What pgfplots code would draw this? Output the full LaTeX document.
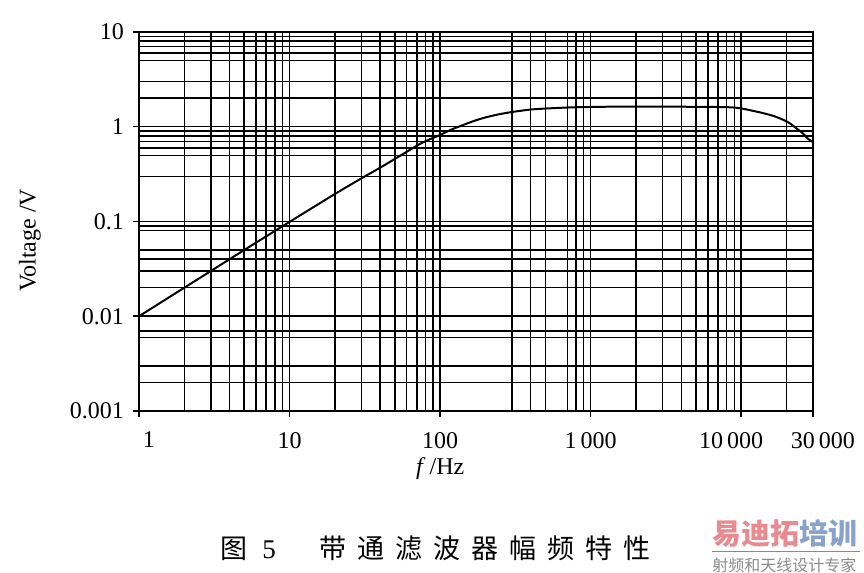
\documentclass[border=0pt]{standalone}
\usepackage{pgfplots}
\pgfplotsset{compat=1.18}
\usepackage{fontspec}
\setmainfont{Liberation Serif}
\newfontfamily\cjk{Noto Sans CJK SC}
\definecolor{wmred}{HTML}{E88A90}
\definecolor{wmblue}{HTML}{87A2CC}
\definecolor{wmgray}{HTML}{8A8A8A}
\begin{document}
\begin{tikzpicture}
\useasboundingbox (0,0) rectangle (432pt,286.5pt);
\begin{axis}[
  at={(69.5pt,81pt)}, anchor=south west,
  scale only axis, width=337pt, height=189.5pt,
  xmode=log, ymode=log,
  xmin=1, xmax=30000, ymin=0.001, ymax=10,
  xtick={1,10,100,1000,10000,30000},
  xticklabels={\hspace*{10pt}1,10,100,1\,000,10\,000\hspace*{10pt},\hspace*{10pt}30\,000},
  minor xtick={2,3,4,5,6,7,8,9,20,30,40,50,60,70,80,90,300,400,500,700,800,900,2000,3000,4000,5000,6000,7000,8000,9000,20000},
  ytick={0.001,0.01,0.1,1,10},
  yticklabels={0.001,0.01,0.1,1,10},
  minor ytick={0.002,0.003,0.006,0.007,0.02,0.03,0.04,0.05,0.08,0.09,0.3,0.5,0.6,0.7,0.8,0.9,2,3,5,6,7,8,9},
  grid=both,
  major grid style={black, line width=0.75pt},
  minor grid style={black, line width=0.75pt},
  axis line style={black, line width=0.75pt},
  tick align=outside, major tick length=3pt, minor tick length=0pt,
  xtick pos=bottom, ytick pos=left,
  tick style={black, line width=0.75pt},
  /pgf/number format/assume math mode=true,
  ticklabel style={font=\fontsize{12}{14}\selectfont},
  xticklabel style={yshift=-4pt},
  yticklabel style={xshift=-1pt},
  xlabel={\textit{f}\,/Hz},
  xlabel style={font=\fontsize{12}{14}\selectfont, at={(rel axis cs:0.447,-0.153)}, anchor=center},
  ylabel={Voltage /V},
  ylabel style={font=\fontsize{12}{14}\selectfont, at={(rel axis cs:-0.162,0.45)}, anchor=center},
]
\addplot[black, line width=1pt, smooth] coordinates {
(1,0.01) (2,0.02) (5,0.05) (10,0.099) (20,0.195) (30,0.285) (40,0.37)
(55,0.5) (75,0.67) (100,0.82) (120,0.94) (135,1.01) (160,1.12) (185,1.21)
(215,1.29) (250,1.36) (300,1.43) (350,1.48) (400,1.52) (480,1.55) (560,1.57)
(700,1.595) (850,1.61) (1100,1.62) (1500,1.63) (3000,1.63) (6000,1.62)
(8000,1.61) (9500,1.58) (10900,1.52) (12000,1.47) (13300,1.42) (14800,1.36)
(16400,1.3) (18200,1.22) (20200,1.13) (21700,1.05) (23300,0.96) (25500,0.86)
(28000,0.74) (30000,0.69)
};
\end{axis}
\node[anchor=west, inner sep=0pt] at (110pt,12.5pt) {\fontsize{13.5}{15}\selectfont\cjk 图\hspace{7.5pt}{\rmfamily 5}\hspace{22pt}带\hspace{5.5pt}通\hspace{5.5pt}滤\hspace{5.5pt}波\hspace{5.5pt}器\hspace{5.5pt}幅\hspace{5.5pt}频\hspace{5.5pt}特\hspace{5.5pt}性};
\node[anchor=west, inner sep=0pt] at (356pt,19.75pt) {\fontsize{14.5}{16}\selectfont\cjk\bfseries\textcolor{wmred}{易迪拓}\textcolor{wmblue}{培训}};
\draw[wmgray, line width=0.5pt] (356pt,10.5pt) -- (430pt,10.5pt);
\node[anchor=west, inner sep=0pt] at (356pt,4pt) {\fontsize{8}{9}\selectfont\cjk\color{wmgray}射频和天线设计专家};
\end{tikzpicture}
\end{document}
